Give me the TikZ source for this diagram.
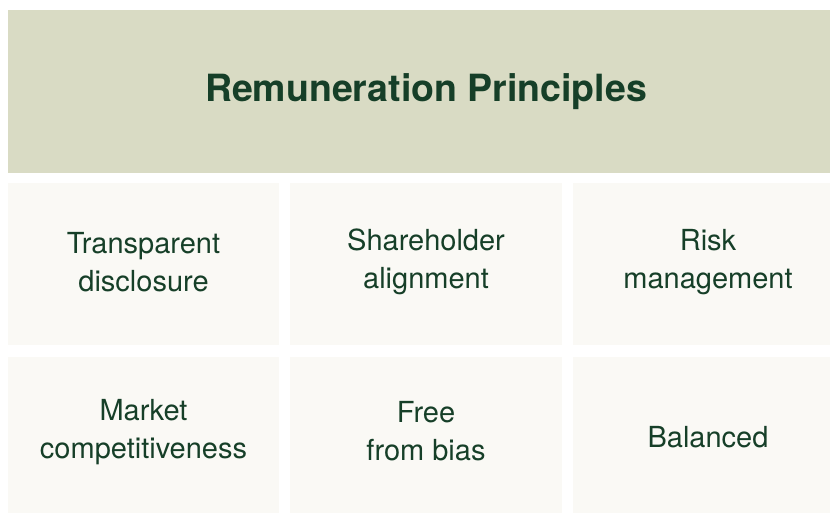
\documentclass[tikz,border=0pt]{standalone}
\usepackage{fontspec}
\setmainfont{TeX Gyre Heros}
\definecolor{headbg}{HTML}{D9DBC4}
\definecolor{cellbg}{HTML}{FAF9F5}
\definecolor{ink}{HTML}{163F28}
\begin{document}
\begin{tikzpicture}[x=1pt,y=-1pt,
  cellbox/.style={fill=cellbg,draw=none},
  celltext/.style={text=ink,align=center,font=\fontsize{29}{38}\selectfont,inner sep=0pt},
  titletext/.style={text=ink,font=\bfseries\fontsize{37.5}{42}\selectfont,inner sep=0pt}]
\useasboundingbox (0,0) rectangle (830,513);
\fill[white] (0,0) rectangle (830,513);
\fill[headbg] (8,10) rectangle (830,173);
\node[titletext] (title) at (426,92) {Remuneration Principles};
% row 1
\fill[cellbox] (8,183) rectangle (279,345);
\fill[cellbox] (290,183) rectangle (562,345);
\fill[cellbox] (573,183) rectangle (830,345);
% row 2
\fill[cellbox] (8,357) rectangle (279,513);
\fill[cellbox] (290,357) rectangle (562,513);
\fill[cellbox] (573,357) rectangle (830,513);
\node[celltext] (c1) at (143.5,262) {Transparent\\disclosure};
\node[celltext] (c2) at (426,262) {Shareholder\\alignment};
\node[celltext] (c3) at (708,262) {Risk\\management};
\node[celltext] (c4) at (143.5,432) {Market\\competitiveness};
\node[celltext] (c5) at (426,431) {Free\\from bias};
\node[celltext] (c6) at (708,437) {Balanced};
\end{tikzpicture}
\end{document}
